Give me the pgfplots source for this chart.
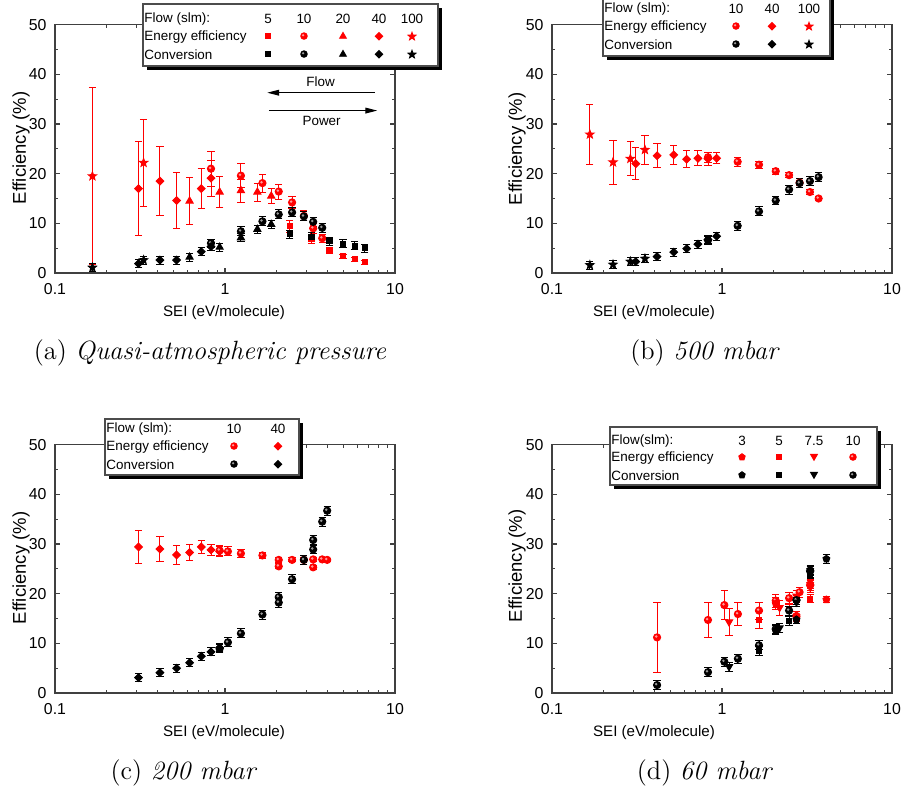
\documentclass[border=0pt]{standalone}
\usepackage{fontspec}
\usepackage{pgfplots}
\pgfplotsset{compat=1.18}
\usetikzlibrary{arrows.meta}
\newfontfamily\arial{Liberation Sans}
\def\pxu{0.4167pt}

% filled five-pointed star, downward triangle, square diamond and shaded ball
\pgfdeclareplotmark{fstar}{%
  \pgfpathmoveto{\pgfpointpolar{90}{\pgfplotmarksize}}%
  \pgfpathlineto{\pgfpointpolar{126}{0.42\pgfplotmarksize}}%
  \pgfpathlineto{\pgfpointpolar{162}{\pgfplotmarksize}}%
  \pgfpathlineto{\pgfpointpolar{198}{0.42\pgfplotmarksize}}%
  \pgfpathlineto{\pgfpointpolar{234}{\pgfplotmarksize}}%
  \pgfpathlineto{\pgfpointpolar{270}{0.42\pgfplotmarksize}}%
  \pgfpathlineto{\pgfpointpolar{306}{\pgfplotmarksize}}%
  \pgfpathlineto{\pgfpointpolar{342}{0.42\pgfplotmarksize}}%
  \pgfpathlineto{\pgfpointpolar{18}{\pgfplotmarksize}}%
  \pgfpathlineto{\pgfpointpolar{54}{0.42\pgfplotmarksize}}%
  \pgfpathclose\pgfusepathqfillstroke}
\pgfdeclareplotmark{tridown*}{%
  \pgfpathmoveto{\pgfpointpolar{270}{\pgfplotmarksize}}%
  \pgfpathlineto{\pgfpointpolar{30}{\pgfplotmarksize}}%
  \pgfpathlineto{\pgfpointpolar{150}{\pgfplotmarksize}}%
  \pgfpathclose\pgfusepathqfillstroke}
\pgfdeclareplotmark{sdiam}{%
  \pgfpathmoveto{\pgfpointpolar{90}{\pgfplotmarksize}}%
  \pgfpathlineto{\pgfpointpolar{180}{\pgfplotmarksize}}%
  \pgfpathlineto{\pgfpointpolar{270}{\pgfplotmarksize}}%
  \pgfpathlineto{\pgfpointpolar{0}{\pgfplotmarksize}}%
  \pgfpathclose\pgfusepathqfillstroke}
\pgfdeclareplotmark{sball}{%
  \pgfpathcircle{\pgfpointorigin}{\pgfplotmarksize}\pgfusepathqfillstroke
  \begin{pgfscope}\pgfsetfillcolor{white}\pgfsetfillopacity{0.6}%
  \pgfpathcircle{\pgfpoint{-0.25\pgfplotmarksize}{0.25\pgfplotmarksize}}{0.38\pgfplotmarksize}\pgfusepathqfill
  \end{pgfscope}}

\newcommand\lbl[1]{{\arial\fontsize{5.6}{6.2}\selectfont #1}}
\newcommand\mk[3]{\tikz[baseline=-0.5ex]{\pgfsetplotmarksize{#2}\color{#1}\pgfuseplotmark{#3}}}
\newcommand\capt[2]{{\fontsize{11}{13}\selectfont (#1) \textit{#2}}}

\pgfplotsset{
  every axis/.append style={
    xmin=0.1, xmax=10, ymin=0, ymax=50,
    scale only axis, width=141.7pt, height=103.5pt,
    xtick={0.1,1,10}, xticklabels={0.1,1,10},
    minor xtick={0.2,0.3,0.4,0.5,0.6,0.7,0.8,0.9,2,3,4,5,6,7,8,9},
    ytick={0,10,20,30,40,50}, minor ytick={5,15,25,35,45},
    tick align=inside, major tick length=2pt, minor tick length=1.2pt,
    axis line style={black!75, line width=0.6pt},
    tick style={black!75, line width=0.5pt},
    tick label style={font=\arial\fontsize{6.6}{7}\selectfont},
    xticklabel style={yshift=-1pt},
  },
  /pgf/number format/assume math mode=true,
  ee/.style={only marks, color=red, mark options={fill=red, draw=red},
    error bars/y dir=both, error bars/y explicit,
    error bars/error bar style={red, line width=0.4pt},
    error bars/error mark options={rotate=90, red, mark size=1.5pt, line width=0.4pt}},
  cv/.style={only marks, color=black, mark options={fill=black, draw=black},
    error bars/y dir=both, error bars/y explicit,
    error bars/error bar style={black, line width=0.4pt},
    error bars/error mark options={rotate=90, black, mark size=1.5pt, line width=0.4pt}},
  msq/.style={mark=square*, mark size=1.1pt},
  mbl/.style={mark=sball, mark size=1.5pt},
  mtr/.style={mark=triangle*, mark size=1.7pt},
  mdi/.style={mark=sdiam, mark size=1.6pt},
  mst/.style={mark=fstar, mark size=1.8pt},
  mtd/.style={mark=tridown*, mark size=1.7pt},
  mpe/.style={mark=pentagon*, mark size=1.5pt},
}

\begin{document}
\begin{tikzpicture}
% fixed page: 901 x 796 px
\useasboundingbox (0,0) rectangle ({901*\pxu},{-796*\pxu});

% ---------------- (a) quasi-atmospheric pressure
\begin{semilogxaxis}[at={({55*\pxu},{-273*\pxu})}, anchor=south west]
\addplot[ee,msq] coordinates {(2.40,9.4) +- (0,1.2) (3.23,6.8) +- (0,0.8) (4.12,4.6) +- (0,0.6) (4.94,3.4) +- (0,0.4) (5.79,2.8) +- (0,0.4) (6.63,2.2) +- (0,0.4)};
\addplot[ee,mbl] coordinates {(0.827,21.0) +- (0,3.5) (1.24,19.6) +- (0,2.4) (1.66,18.1) +- (0,1.8) (2.07,16.4) +- (0,1.5) (2.48,14.2) +- (0,1.2) (2.91,11.5) +- (0,1.0) (3.30,9.0) +- (0,1.0) (3.73,7.0) +- (0,0.8)};
\addplot[ee,mtr] coordinates {(0.619,14.5) +- (0,4.8) (0.93,16.3) +- (0,3.2) (1.24,16.6) +- (0,2.3) (1.55,16.3) +- (0,1.8) (1.87,15.5) +- (0,1.5)};
\addplot[ee,mdi] coordinates {(0.31,17.0) +- (0,9.4) (0.414,18.5) +- (0,7.0) (0.519,14.6) +- (0,5.7) (0.725,17.0) +- (0,4.1) (0.827,19.1) +- (0,3.6)};
\addplot[ee,mst] coordinates {(0.166,19.5) +- (0,17.8) (0.332,22.2) +- (0,8.8)};
\addplot[cv,msq] coordinates {(2.40,7.8) +- (0,0.8) (3.23,7.3) +- (0,0.8) (4.12,6.4) +- (0,0.8) (4.94,5.9) +- (0,0.8) (5.79,5.5) +- (0,0.8) (6.63,5.0) +- (0,0.8)};
\addplot[cv,mbl] coordinates {(0.827,6.0) +- (0,0.8) (1.24,8.4) +- (0,0.9) (1.66,10.4) +- (0,0.9) (2.07,11.8) +- (0,0.9) (2.48,12.2) +- (0,0.9) (2.91,11.4) +- (0,0.9) (3.30,10.3) +- (0,0.9) (3.73,9.1) +- (0,0.9)};
\addplot[cv,mtr] coordinates {(0.619,3.2) +- (0,0.8) (0.93,5.2) +- (0,0.8) (1.24,7.1) +- (0,0.8) (1.55,8.8) +- (0,0.8) (1.87,9.8) +- (0,0.8)};
\addplot[cv,mdi] coordinates {(0.31,1.9) +- (0,0.8) (0.414,2.6) +- (0,0.8) (0.519,2.6) +- (0,0.8) (0.725,4.3) +- (0,0.8) (0.827,5.3) +- (0,0.8)};
\addplot[cv,mst] coordinates {(0.166,1.1) +- (0,0.8) (0.332,2.6) +- (0,0.8)};
\draw[line width=0.5pt, -{Triangle[length=5pt,width=2.4pt]}] (axis cs:7.59,36.3) -- (axis cs:1.77,36.3);
\draw[line width=0.5pt, -{Triangle[length=5pt,width=2.4pt]}] (axis cs:1.81,32.7) -- (axis cs:7.86,32.7);
\node at (axis cs:3.65,38.6) {\lbl{Flow}};
\node at (axis cs:3.7,30.6) {\lbl{Power}};
\end{semilogxaxis}

% ---------------- (b) 500 mbar
\begin{semilogxaxis}[at={({552*\pxu},{-273*\pxu})}, anchor=south west]
\addplot[ee,mbl] coordinates {(0.827,23.3) +- (0,1.0) (1.236,22.4) +- (0,0.9) (1.65,21.8) +- (0,0.7) (2.07,20.5) +- (0,0.6) (2.48,19.7) +- (0,0.5) (2.86,18.2) +- (0,0.5) (3.29,16.3) +- (0,0.5) (3.70,15.0) +- (0,0.4)};
\addplot[ee,mdi] coordinates {(0.311,22.0) +- (0,3.2) (0.415,23.6) +- (0,2.4) (0.52,23.8) +- (0,1.9) (0.62,22.9) +- (0,1.7) (0.722,23.1) +- (0,1.5) (0.827,23.0) +- (0,1.3) (0.93,23.1) +- (0,1.1)};
\addplot[ee,mst] coordinates {(0.167,27.9) +- (0,6.0) (0.2285,22.3) +- (0,4.4) (0.289,23.0) +- (0,3.4) (0.352,24.8) +- (0,2.9)};
\addplot[cv,mbl] coordinates {(0.827,6.6) +- (0,0.8) (1.236,9.5) +- (0,0.9) (1.65,12.4) +- (0,0.9) (2.07,14.6) +- (0,0.9) (2.48,16.8) +- (0,0.9) (2.86,18.1) +- (0,0.9) (3.29,18.5) +- (0,0.9) (3.70,19.3) +- (0,0.9)};
\addplot[cv,mdi] coordinates {(0.311,2.3) +- (0,0.8) (0.415,3.3) +- (0,0.8) (0.52,4.2) +- (0,0.8) (0.62,4.9) +- (0,0.8) (0.722,5.8) +- (0,0.8) (0.827,6.7) +- (0,0.8) (0.93,7.4) +- (0,0.8)};
\addplot[cv,mst] coordinates {(0.167,1.6) +- (0,0.8) (0.2285,1.7) +- (0,0.8) (0.289,2.3) +- (0,0.8) (0.352,2.9) +- (0,0.8)};
\end{semilogxaxis}

% ---------------- (c) 200 mbar
\begin{semilogxaxis}[at={({55*\pxu},{-693*\pxu})}, anchor=south west]
\addplot[ee,mdi] coordinates {(0.31,29.4) +- (0,3.3) (0.414,29.0) +- (0,2.5) (0.519,27.8) +- (0,2.0) (0.619,28.3) +- (0,1.6) (0.725,29.4) +- (0,1.4) (0.827,28.8) +- (0,1.2) (0.93,28.5) +- (0,1.1)};
\addplot[ee,mbl] coordinates {(0.93,28.7) +- (0,1.0) (1.04,28.5) +- (0,0.9) (1.24,28.1) +- (0,0.8) (1.66,27.7) +- (0,0.6) (2.07,26.8) +- (0,0.5) (2.07,25.5) +- (0,0.5) (2.48,26.8) +- (0,0.4) (2.91,26.8) +- (0,0.4) (3.30,26.9) +- (0,0.4) (3.30,25.3) +- (0,0.4) (3.73,26.9) +- (0,0.3) (3.99,26.8) +- (0,0.3)};
\addplot[cv,mbl] coordinates {(0.93,8.9) +- (0,0.8) (1.04,10.2) +- (0,0.9) (1.24,12.0) +- (0,0.9) (1.66,15.8) +- (0,0.9) (2.07,19.3) +- (0,0.9) (2.07,18.2) +- (0,0.9) (2.48,22.9) +- (0,0.9) (2.91,26.8) +- (0,0.9) (3.30,28.9) +- (0,0.9) (3.30,30.8) +- (0,0.9) (3.73,34.5) +- (0,0.9) (3.99,36.7) +- (0,0.9)};
\addplot[cv,mdi] coordinates {(0.31,3.1) +- (0,0.8) (0.414,4.1) +- (0,0.8) (0.519,5.0) +- (0,0.8) (0.619,6.1) +- (0,0.8) (0.725,7.4) +- (0,0.8) (0.827,8.3) +- (0,0.8) (0.93,9.1) +- (0,0.8)};
\end{semilogxaxis}

% ---------------- (d) 60 mbar
\begin{semilogxaxis}[at={({552*\pxu},{-693*\pxu})}, anchor=south west]
\addplot[ee,mbl] coordinates {(0.415,11.2) +- (0,7.1) (0.827,14.7) +- (0,3.5) (1.032,17.7) +- (0,2.9) (1.24,15.9) +- (0,2.3) (1.65,16.6) +- (0,1.7) (2.07,18.6) +- (0,1.3) (2.48,19.1) +- (0,1.1) (2.74,15.4) +- (0,1.0) (2.86,20.3) +- (0,1.0) (3.30,21.7) +- (0,1.0)};
\addplot[ee,msq] coordinates {(1.65,14.7) +- (0,1.7) (2.48,16.7) +- (0,1.2) (3.30,19.0) +- (0,0.8)};
\addplot[ee,mtd] coordinates {(1.10,14.3) +- (0,2.7) (2.18,17.2) +- (0,1.5) (2.74,19.5) +- (0,1.2) (3.30,21.3) +- (0,1.0)};
\addplot[ee,mpe] coordinates {(2.07,18.0) +- (0,1.2) (2.74,15.6) +- (0,0.9) (3.30,22.0) +- (0,0.9) (4.11,18.8) +- (0,0.6)};
\addplot[cv,mbl] coordinates {(0.415,1.6) +- (0,0.9) (0.827,4.2) +- (0,0.9) (1.032,6.3) +- (0,0.9) (1.24,6.9) +- (0,0.9) (1.65,9.6) +- (0,0.9) (2.07,12.9) +- (0,0.9) (2.48,16.6) +- (0,0.9) (2.74,18.7) +- (0,0.9) (3.30,24.5) +- (0,0.9)};
\addplot[cv,msq] coordinates {(1.65,8.4) +- (0,0.9) (2.48,14.5) +- (0,0.9) (3.30,24.0) +- (0,0.9)};
\addplot[cv,mtd] coordinates {(1.10,5.3) +- (0,0.9) (2.18,13.1) +- (0,0.9) (2.74,18.3) +- (0,0.9) (3.30,24.2) +- (0,0.9)};
\addplot[cv,mpe] coordinates {(2.07,12.6) +- (0,0.9) (2.74,14.8) +- (0,0.9) (3.30,24.8) +- (0,0.9) (4.11,27.0) +- (0,0.9)};
\end{semilogxaxis}

\begin{scope}[x=\pxu,y=-\pxu]
% axis titles
\foreach \xx/\yy in {224/313, 654/313, 224/733, 654/733}
  \node at (\xx,\yy) {\arial\fontsize{6.3}{7}\selectfont SEI (eV/molecule)};
\foreach \xx/\yy in {21/148, 517/149, 21/568, 517/566}
  \node[rotate=90] at (\xx,\yy) {\arial\fontsize{7.7}{8}\selectfont Efficiency (\%)};
% sub-captions
\node at (210,353) {\capt{a}{Quasi-atmospheric pressure}};
\node at (705,353) {\capt{b}{500 mbar}};
\node at (184,773) {\capt{c}{200 mbar}};
\node at (705,773) {\capt{d}{60 mbar}};

% legend (a)
\fill[black] (147,8) rectangle (442,70);
\draw[black!70, fill=white, line width=0.5pt] (143,4) rectangle (438,66);
\node[anchor=west, inner sep=0] at (144,19) {\lbl{Flow (slm):}};
\node[anchor=west, inner sep=0] at (144,37) {\lbl{Energy efficiency}};
\node[anchor=west, inner sep=0] at (144,55) {\lbl{Conversion}};
\foreach \xx/\tt/\mm/\ss in {268/5/square*/1.1pt, 304/10/sball/1.35pt, 343/20/triangle*/1.6pt, 379/40/sdiam/1.5pt, 412/100/fstar/1.7pt}{
  \node at (\xx,19) {\lbl{\tt}};
  \node at (\xx,37) {\mk{red}{\ss}{\mm}};
  \node at (\xx,55) {\mk{black}{\ss}{\mm}};
}

% legend (b), its top runs off the page
\fill[black] (607,-2) rectangle (834,60);
\draw[black!70, fill=white, line width=0.5pt] (603,-8) rectangle (830,56);
\node[anchor=west, inner sep=0] at (604,9) {\lbl{Flow (slm):}};
\node[anchor=west, inner sep=0] at (604,27) {\lbl{Energy efficiency}};
\node[anchor=west, inner sep=0] at (604,45) {\lbl{Conversion}};
\foreach \xx/\tt/\mm/\ss in {736/10/sball/1.35pt, 772/40/sdiam/1.5pt, 809/100/fstar/1.7pt}{
  \node at (\xx,9) {\lbl{\tt}};
  \node at (\xx,27) {\mk{red}{\ss}{\mm}};
  \node at (\xx,45) {\mk{black}{\ss}{\mm}};
}

% legend (c)
\fill[black] (109,423) rectangle (303,479);
\draw[black!70, fill=white, line width=0.5pt] (105,419) rectangle (299,475);
\node[anchor=west, inner sep=0] at (106,429) {\lbl{Flow (slm):}};
\node[anchor=west, inner sep=0] at (106,447) {\lbl{Energy efficiency}};
\node[anchor=west, inner sep=0] at (106,465) {\lbl{Conversion}};
\foreach \xx/\tt/\mm/\ss in {234/10/sball/1.35pt, 278/40/sdiam/1.5pt}{
  \node at (\xx,429) {\lbl{\tt}};
  \node at (\xx,447) {\mk{red}{\ss}{\mm}};
  \node at (\xx,465) {\mk{black}{\ss}{\mm}};
}

% legend (d)
\fill[black] (614,431) rectangle (881,489);
\draw[black!70, fill=white, line width=0.5pt] (610,427) rectangle (877,485);
\node[anchor=west, inner sep=0] at (611,441) {\lbl{Flow(slm):}};
\node[anchor=west, inner sep=0] at (611,458) {\lbl{Energy efficiency}};
\node[anchor=west, inner sep=0] at (611,476) {\lbl{Conversion}};
\foreach \xx/\tt/\mm/\ss in {742/3/pentagon*/1.4pt, 779/5/square*/1.1pt, 814/7.5/tridown*/1.6pt, 853/10/sball/1.35pt}{
  \node at (\xx,441) {\lbl{\tt}};
  \node at (\xx,458) {\mk{red}{\ss}{\mm}};
  \node at (\xx,476) {\mk{black}{\ss}{\mm}};
}
\end{scope}
\end{tikzpicture}
\end{document}
